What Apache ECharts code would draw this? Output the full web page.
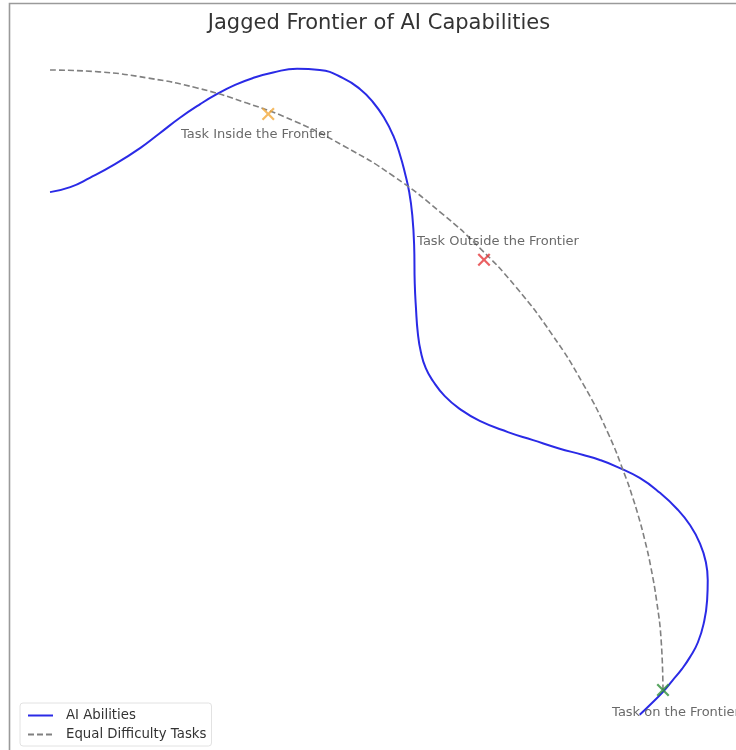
<!DOCTYPE html>
<html>
<head>
<meta charset="utf-8">
<script src="https://cdn.jsdelivr.net/npm/echarts@6/dist/echarts.min.js"></script>
<style>
  html, body { margin: 0; padding: 0; background: #ffffff; }
  #chart { width: 736px; height: 750px; }
</style>
</head>
<body>
<div id="chart"></div>
<script>
// AI abilities: a jagged boundary, listed as [x, y] points in order along the curve
const abilityCurve = [
  [0.000, 0.803], [0.033, 0.811], [0.065, 0.826], [0.106, 0.848], [0.147, 0.874],
  [0.179, 0.898], [0.212, 0.923], [0.245, 0.945], [0.272, 0.961], [0.302, 0.976],
  [0.331, 0.987], [0.364, 0.996], [0.403, 1.002], [0.440, 1.000], [0.478, 0.987],
  [0.506, 0.969], [0.527, 0.948], [0.545, 0.923], [0.560, 0.894], [0.571, 0.863],
  [0.579, 0.834], [0.586, 0.803], [0.591, 0.766], [0.594, 0.718], [0.595, 0.656],
  [0.597, 0.616], [0.600, 0.576], [0.605, 0.545], [0.613, 0.519], [0.625, 0.498],
  [0.644, 0.474], [0.669, 0.453], [0.701, 0.434], [0.747, 0.416], [0.788, 0.403],
  [0.829, 0.390], [0.870, 0.379], [0.897, 0.371], [0.925, 0.360], [0.962, 0.342],
  [0.995, 0.318], [1.023, 0.292], [1.044, 0.266], [1.060, 0.237], [1.070, 0.206],
  [1.073, 0.177], [1.072, 0.145], [1.067, 0.110], [1.057, 0.077], [1.044, 0.053],
  [1.031, 0.034], [1.016, 0.016], [1.000, -0.003], [0.982, -0.021], [0.962, -0.040]
];

// Tasks of equal difficulty: a smooth arc from the top-left to the bottom-right
const equalDifficulty = [
  [0.00, 1.000], [0.08, 0.997], [0.16, 0.987], [0.24, 0.971], [0.32, 0.947],
  [0.40, 0.917], [0.48, 0.877], [0.56, 0.829], [0.64, 0.768], [0.70, 0.714],
  [0.76, 0.650], [0.82, 0.572], [0.87, 0.493], [0.91, 0.415], [0.94, 0.341],
  [0.95, 0.312], [0.96, 0.280], [0.97, 0.243], [0.98, 0.199], [0.99, 0.141],
  [0.997, 0.080], [1.00, 0.000]
];

// Example tasks
const taskNames = ['Task Inside the Frontier', 'Task Outside the Frontier', 'Task on the Frontier'];
const taskPoints = [[0.356, 0.929], [0.708, 0.694], [1.000, 0.000]];

const seriesNames = ['AI Abilities', 'Equal Difficulty Tasks'];
const chartTitle = 'Jagged Frontier of AI Capabilities';

// Marker look and label placement for each task
const taskColors = ['#f2a93b', '#e5383b', '#2f8f3a'];
const taskLabelOffsets = [[-12, 21], [14, -18], [13, 23]];

// Filled "x" glyph
const crossPath = 'path://M0,1.2 L1.2,0 L5,3.8 L8.8,0 L10,1.2 L6.2,5 L10,8.8 L8.8,10 L5,6.2 L1.2,10 L0,8.8 L3.8,5 Z';

const chart = echarts.init(document.getElementById('chart'), null, { renderer: 'canvas' });

const font = 'DejaVu Sans';

chart.setOption({
  backgroundColor: '#ffffff',
  animation: false,
  title: {
    text: chartTitle,
    left: 374,
    top: 8,
    textAlign: 'center',
    textStyle: { fontFamily: font, fontSize: 21, fontWeight: 'normal', color: '#333333' }
  },
  graphic: [
    {
      type: 'rect',
      silent: true,
      z: 100,
      shape: { x: 9.5, y: 3.5, width: 800, height: 800 },
      style: { fill: 'none', stroke: '#9a9a9a', lineWidth: 1.6 }
    }
  ],
  legend: {
    orient: 'vertical',
    left: 20,
    bottom: 4,
    data: seriesNames,
    itemWidth: 25,
    itemHeight: 10,
    itemGap: 6,
    padding: [6, 5, 5, 7],
    backgroundColor: '#ffffff',
    borderColor: '#e2e2e2',
    borderWidth: 1,
    borderRadius: 3,
    // only the line sample is shown, the point glyph is hidden
    itemStyle: { opacity: 0 },
    textStyle: { fontFamily: font, fontSize: 13.3, color: '#333333', padding: [0, 0, 0, 8] }
  },
  grid: { left: 0, right: 0, top: 0, bottom: 0 },
  xAxis: {
    type: 'value',
    min: -0.0816,
    max: 1.1191,
    show: false
  },
  yAxis: {
    type: 'value',
    min: -0.0968,
    max: 1.1129,
    show: false
  },
  series: [
    {
      name: seriesNames[0],
      type: 'line',
      data: abilityCurve,
      smooth: 0.5,
      showSymbol: false,
      z: 2,
      lineStyle: { color: '#2a2ae6', width: 2 },
      itemStyle: { color: '#2a2ae6' }
    },
    {
      name: seriesNames[1],
      type: 'line',
      data: equalDifficulty,
      smooth: 0.5,
      showSymbol: false,
      z: 3,
      lineStyle: { color: '#808080', width: 1.6, type: [6, 3] },
      itemStyle: { color: '#808080' }
    },
    {
      type: 'scatter',
      z: 4,
      symbol: crossPath,
      symbolSize: 13,
      data: taskPoints.map((p, i) => ({
        value: p,
        name: taskNames[i],
        itemStyle: { color: taskColors[i] },
        label: {
          show: true,
          position: 'inside',
          offset: taskLabelOffsets[i],
          formatter: taskNames[i],
          fontFamily: font,
          fontSize: 13,
          color: '#444444'
        }
      }))
    }
  ]
});
</script>
</body>
</html>
